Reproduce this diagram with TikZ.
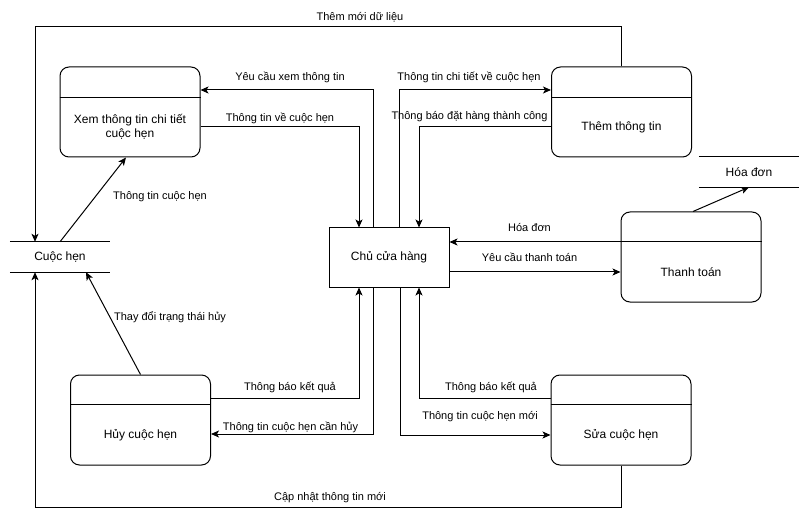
\documentclass[tikz,border=0pt]{standalone}
\usepackage{fontspec}
\setmainfont{Liberation Sans}
\usetikzlibrary{arrows.meta}

\begin{document}
\begin{tikzpicture}[x=1pt,y=1pt]
\tikzstyle{every node}+=[inner sep=0pt]
\tikzstyle{proc}=[draw, line width=1pt, rounded corners=9pt, minimum width=140pt, minimum height=90pt]
\tikzstyle{store}=[minimum width=100pt, minimum height=30pt]
\tikzstyle{txt}=[font=\fontsize{12}{14}\selectfont, align=center]
\tikzstyle{lbl}=[font=\fontsize{11}{13}\selectfont]
\tikzstyle{line}=[line width=1pt]
\tikzstyle{flow}=[line width=1pt, -{Stealth[length=8pt,width=7pt,inset=2pt]}]
\useasboundingbox (0,0) rectangle (810,-526);
\node[proc] (xem) at (130,-112) {};
\draw[line] ([yshift=-31pt]xem.north west) -- ([yshift=-31pt]xem.north east);
\node[txt] (xemT) at ([yshift=-15pt]xem.center) {Xem thông tin chi tiết\\cuộc hẹn};
\node[proc] (them) at (621.5,-112) {};
\draw[line] ([yshift=-31pt]them.north west) -- ([yshift=-31pt]them.north east);
\node[txt] (themT) at ([yshift=-15pt]them.center) {Thêm thông tin};
\node[proc] (tt) at (691,-257) {};
\draw[line] ([yshift=-30pt]tt.north west) -- ([yshift=-30pt]tt.north east);
\node[txt] (ttT) at ([yshift=-15pt]tt.center) {Thanh toán};
\node[proc] (huy) at (140.5,-420) {};
\draw[line] ([yshift=-30pt]huy.north west) -- ([yshift=-30pt]huy.north east);
\node[txt] (huyT) at ([yshift=-15pt]huy.center) {Hủy cuộc hẹn};
\node[proc] (sua) at (621,-420) {};
\draw[line] ([yshift=-30pt]sua.north west) -- ([yshift=-30pt]sua.north east);
\node[txt] (suaT) at ([yshift=-15pt]sua.center) {Sửa cuộc hẹn};
\node[draw, line width=1pt, minimum width=120pt, minimum height=59pt, txt] (chu) at (389,-257.5) {Chủ cửa hàng};
\node[store, txt] (hen) at (60,-257) {Cuộc hẹn};
\draw[line] (hen.north west) -- (hen.north east);
\draw[line] (hen.south west) -- (hen.south east);
\node[store, txt] (hoa) at (749,-172) {Hóa đơn};
\draw[line] (hoa.north west) -- (hoa.north east);
\draw[line] (hoa.south west) -- (hoa.south east);
\coordinate (tl) at (35,-27);
\coordinate (bl) at (35,-507);
\draw[flow] (them.north) |- (tl) -- (tl |- hen.north);
\node[lbl] (l1) at (360,-17) {Thêm mới dữ liệu};
\draw[flow] (sua.south) |- (bl) -- (bl |- hen.south);
\node[lbl] (l2) at (330,-498) {Cập nhật thông tin mới};
\draw[flow] (hen.north) -- ([xshift=-4pt]xem.south);
\node[lbl] (l3) at (160,-197) {Thông tin cuộc hẹn};
\draw[flow] (huy.north) -- ([xshift=26pt]hen.south);
\node[lbl] (l4) at (170,-317) {Thay đổi trạng thái hủy};
\draw[flow] ([xshift=-16pt]chu.north) |- ([yshift=22pt]xem.east);
\node[lbl] (l5) at (290,-77) {Yêu cầu xem thông tin};
\draw[flow] ([yshift=-15pt]xem.east) -| ([xshift=-30pt]chu.north);
\node[lbl] (l6) at (280,-118) {Thông tin về cuộc hẹn};
\draw[flow] ([xshift=10pt]chu.north) |- ([yshift=22pt]them.west);
\node[lbl] (l7) at (469,-77) {Thông tin chi tiết về cuộc hẹn};
\draw[flow] ([yshift=-15pt]them.west) -| ([xshift=30pt]chu.north);
\node[lbl] (l8) at (469.5,-117) {Thông báo đặt hàng thành công};
\draw[flow] ([yshift=15pt]tt.west) -- ([yshift=15.5pt]chu.east);
\node[lbl] (l9) at (529.5,-228) {Hóa đơn};
\draw[flow] ([yshift=-14.5pt]chu.east) -- ([yshift=-15pt]tt.west);
\node[lbl] (l10) at (529.5,-257) {Yêu cầu thanh toán};
\draw[flow] ([xshift=2pt]tt.north) -- (hoa.south);
\draw[flow] ([yshift=22pt]huy.east) -| ([xshift=-30pt]chu.south);
\node[lbl] (l11) at (290,-387) {Thông báo kết quả};
\draw[flow] ([xshift=-16pt]chu.south) |- ([yshift=-14pt]huy.east);
\node[lbl] (l12) at (290.5,-427) {Thông tin cuộc hẹn cần hủy};
\draw[flow] ([yshift=22pt]sua.west) -| ([xshift=30pt]chu.south);
\node[lbl] (l13) at (491,-387) {Thông báo kết quả};
\draw[flow] ([xshift=11pt]chu.south) |- ([yshift=-15pt]sua.west);
\node[lbl] (l14) at (480,-417) {Thông tin cuộc hẹn mới};
\end{tikzpicture}
\end{document}
